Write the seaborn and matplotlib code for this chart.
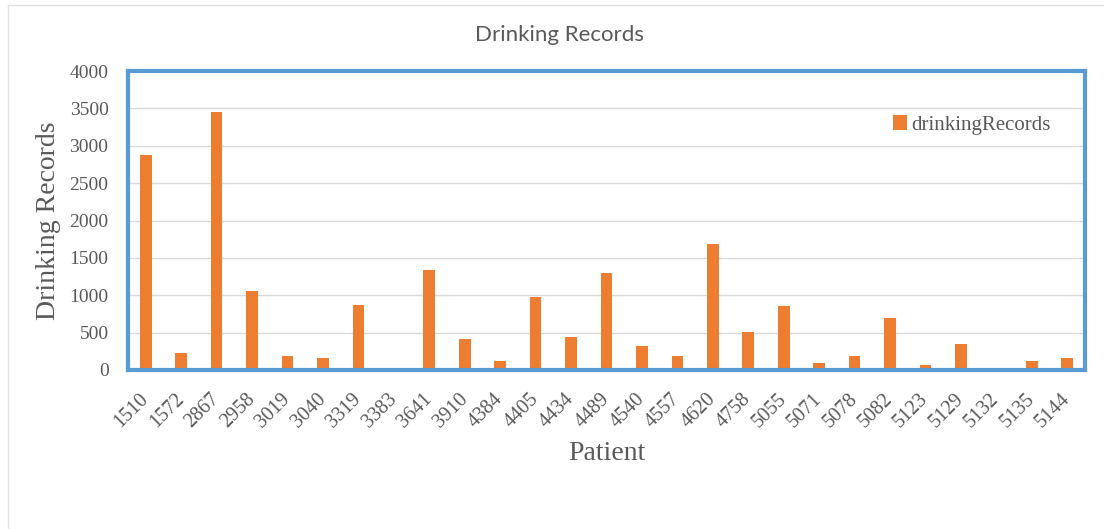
import matplotlib
matplotlib.use("Agg")
import matplotlib.pyplot as plt
from matplotlib.lines import Line2D
import pandas as pd
import seaborn as sns

# Patient IDs and their number of drinking records
patients = ["1510", "1572", "2867", "2958", "3019", "3040", "3319", "3383", "3641",
            "3910", "4384", "4405", "4434", "4489", "4540", "4557", "4620", "4758",
            "5055", "5071", "5078", "5082", "5123", "5129", "5132", "5135", "5144"]
records = [2880, 230, 3450, 1060, 190, 160, 870, 0, 1340,
           420, 120, 970, 440, 1300, 320, 190, 1690, 510,
           850, 100, 190, 700, 70, 350, 0, 120, 160]
y_ticks = [0, 500, 1000, 1500, 2000, 2500, 3000, 3500, 4000]

df = pd.DataFrame({"Patient": patients, "drinkingRecords": records})

sns.set_theme(style="white")
plt.rcParams["font.family"] = ["Liberation Serif", "DejaVu Serif"]

GREY_TEXT = "#595959"
ORANGE = "#ED7D31"
BLUE = "#5B9BD5"
GRID = "#D9D9D9"

fig = plt.figure(figsize=(11.04, 5.29), dpi=100)
ax = fig.add_axes([128 / 1104, 1 - 370 / 529, (1085 - 128) / 1104, (370 - 71) / 529])

sns.barplot(data=df, x="Patient", y="drinkingRecords", order=patients,
            color=ORANGE, saturation=1, width=0.33, label="drinkingRecords",
            linewidth=0, edgecolor="none", ax=ax, zorder=3)

ax.set_ylim(0, 4000)
ax.set_xlim(-0.5, len(patients) - 0.5)
ax.set_yticks(y_ticks)
ax.yaxis.grid(True, color=GRID, linewidth=1.0, zorder=0)
ax.xaxis.grid(False)
ax.set_axisbelow(True)

for side in ["top", "bottom", "left", "right"]:
    ax.spines[side].set_visible(True)
    ax.spines[side].set_color(BLUE)
    ax.spines[side].set_linewidth(3)
    ax.spines[side].set_zorder(5)

ax.tick_params(axis="both", length=0, colors=GREY_TEXT, labelsize=14)
ax.tick_params(axis="y", pad=14)
ax.tick_params(axis="x", pad=19)
for lbl in ax.get_xticklabels():
    lbl.set_rotation(45)
    lbl.set_rotation_mode("anchor")
    lbl.set_ha("right")
    lbl.set_va("center")
    lbl.set_fontsize(14.5)

ax.set_xlabel("Patient", fontsize=20, color=GREY_TEXT, labelpad=7)
ax.set_ylabel("Drinking Records", fontsize=20, color=GREY_TEXT, labelpad=6)

leg = ax.legend(loc="center right", bbox_to_anchor=(0.975, 0.82), frameon=False,
                fontsize=15, handlelength=0.7, handleheight=0.7,
                handletextpad=0.2, borderpad=0)
for t in leg.get_texts():
    t.set_color(GREY_TEXT)
    t.set_fontfamily(["Liberation Serif", "DejaVu Serif"])

fig.text(0.507, 1 - 35 / 529, "Drinking Records", ha="center", va="center",
         fontsize=16, color=GREY_TEXT, family=["Lato", "DejaVu Sans"])

# faint outer chart-area border
fig.add_artist(Line2D([8 / 1104, 1.0], [1 - 5 / 529, 1 - 5 / 529],
                      transform=fig.transFigure, color="#E3E3E3", linewidth=1))
fig.add_artist(Line2D([8 / 1104, 8 / 1104], [0.0, 1 - 5 / 529],
                      transform=fig.transFigure, color="#E3E3E3", linewidth=1))

fig.savefig("out.png", dpi=100, facecolor="white")
